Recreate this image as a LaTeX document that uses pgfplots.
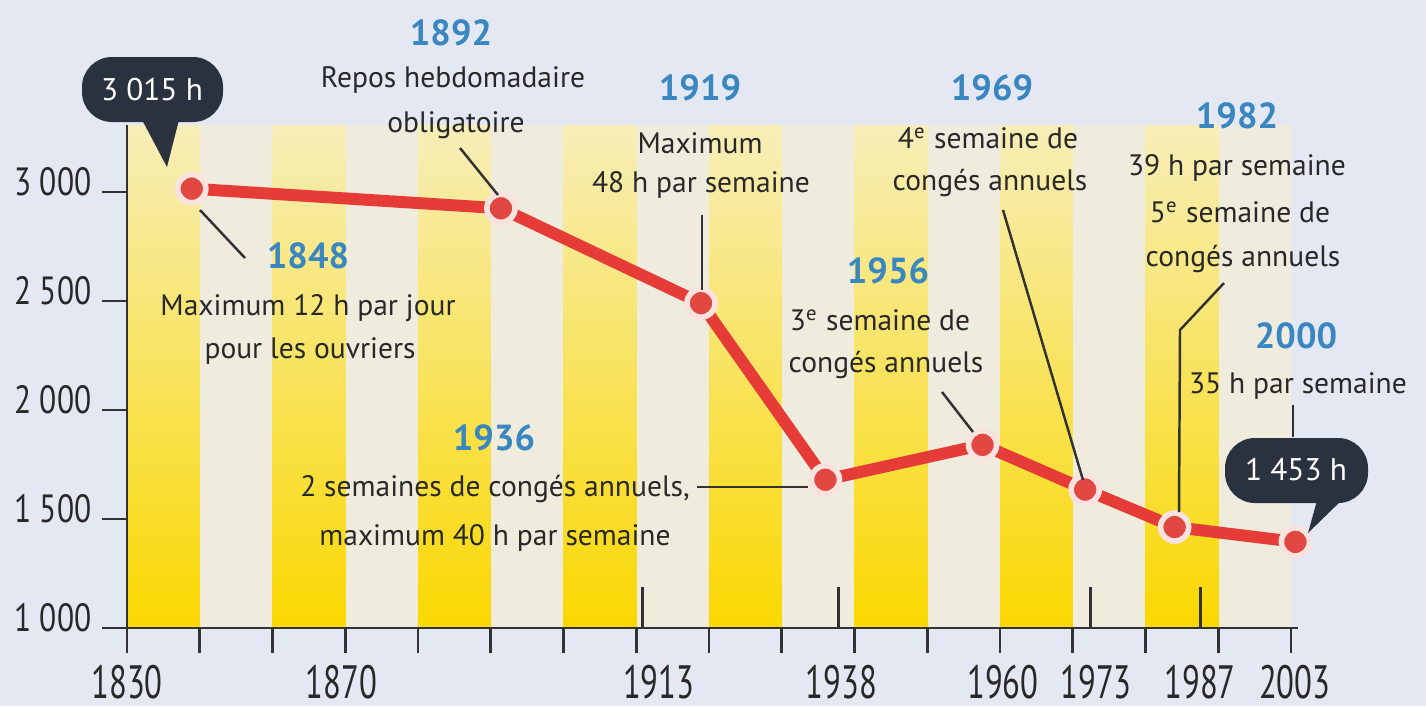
\documentclass[border=0pt]{standalone}
\usepackage{fontspec}
\setmainfont{PT Sans}
\newfontfamily\xlabfont{PT Sans}[FakeStretch=0.7]
\newfontfamily\ylabfont{PT Sans}[FakeStretch=0.8]
\usepackage{pgfplots}
\pgfplotsset{compat=1.18}
\definecolor{bgcol}{RGB}{228,232,242}
\definecolor{cream}{RGB}{239,236,222}
\definecolor{ytop}{RGB}{247,238,185}
\definecolor{ymid}{RGB}{248,228,110}
\definecolor{ybot}{RGB}{250,216,0}
\definecolor{redline}{RGB}{230,60,55}
\definecolor{redmark}{RGB}{225,72,66}
\definecolor{ringcol}{RGB}{250,226,222}
\definecolor{yearblue}{RGB}{58,134,192}
\definecolor{callout}{RGB}{42,50,64}
\definecolor{txt}{RGB}{40,40,40}
\definecolor{axcol}{RGB}{50,50,50}
\newcommand{\ann}{\color{txt}\fontsize{8.4}{10}\selectfont}
\newcommand{\yr}{\color{yearblue}\bfseries\fontsize{10.3}{12}\selectfont}
\begin{document}
\begin{tikzpicture}
\fill[bgcol] (0,0) rectangle (14.26,7.06);
\useasboundingbox (0,0) rectangle (14.26,7.06);
\begin{axis}[
  at={(1.27cm,0.78cm)}, anchor=south west,
  scale only axis, width=11.713cm, height=5.03cm,
  xmin=0, xmax=16.1, ymin=1000, ymax=3307,
  axis lines*=left,
  axis line style={draw=axcol, line width=0.8pt},
  clip=false, axis on top,
  tick align=outside, major tick length=7pt,
  tick style={draw=axcol, line width=0.8pt},
  xtick={0,1,...,16}, xticklabels={},
  extra x ticks={0,2.95,7.31,9.82,12.04,13.32,14.75,16.05},
  extra x tick labels={1830,1870,1913,1938,1960,1973,1987,2003},
  extra x tick style={major tick length=0pt},
  xticklabel style={font=\xlabfont\fontsize{13.3}{15}\selectfont, text=txt, anchor=base, yshift=-20pt},
  ytick={1000,1500,2000,2500,3000},
  yticklabels={1 000,1 500,2 000,2 500,3 000},
  yticklabel style={font=\ylabfont\fontsize{11.2}{12}\selectfont, text=txt, anchor=base east, yshift=-0.9pt, xshift=0.4pt},
]
\fill[cream] (axis cs:0,1000) rectangle (axis cs:16,3307);
\fill[top color=ytop, middle color=ymid, bottom color=ybot] (axis cs:0,1000) rectangle (axis cs:1,3307);
\fill[top color=ytop, middle color=ymid, bottom color=ybot] (axis cs:2,1000) rectangle (axis cs:3,3307);
\fill[top color=ytop, middle color=ymid, bottom color=ybot] (axis cs:4,1000) rectangle (axis cs:5,3307);
\fill[top color=ytop, middle color=ymid, bottom color=ybot] (axis cs:6,1000) rectangle (axis cs:7,3307);
\fill[top color=ytop, middle color=ymid, bottom color=ybot] (axis cs:8,1000) rectangle (axis cs:9,3307);
\fill[top color=ytop, middle color=ymid, bottom color=ybot] (axis cs:10,1000) rectangle (axis cs:11,3307);
\fill[top color=ytop, middle color=ymid, bottom color=ybot] (axis cs:12,1000) rectangle (axis cs:13,3307);
\fill[top color=ytop, middle color=ymid, bottom color=ybot] (axis cs:14,1000) rectangle (axis cs:15,3307);
\draw[axcol, line width=0.9pt] (axis cs:7.08,1000) -- (axis cs:7.08,1188);
\draw[axcol, line width=0.9pt] (axis cs:9.78,1000) -- (axis cs:9.78,1188);
\draw[axcol, line width=0.9pt] (axis cs:13.24,1000) -- (axis cs:13.24,1188);
\draw[axcol, line width=0.9pt] (axis cs:14.76,1000) -- (axis cs:14.76,1188);
\addplot[color=redline, line width=3.4pt, mark=*, mark size=4pt,
  mark options={fill=redmark, draw=ringcol, line width=1.6pt}]
  coordinates {(0.89,3015) (5.14,2925) (7.89,2490) (9.60,1680) (11.76,1840) (13.17,1635) (14.40,1463) (16.06,1395)};
\end{axis}
% leaders
\begin{scope}[axcol, line width=0.7pt]
\draw (2.00,4.96) -- (2.45,4.48);
\draw (4.60,5.58) -- (4.98,5.11);
\draw (7.02,4.91) -- (7.02,4.16);
\draw (6.97,2.19) -- (8.08,2.19);
\draw (9.42,3.14) -- (9.73,2.74);
\draw (10.03,4.96) -- (10.83,2.26);
\draw (12.24,4.23) -- (11.80,3.76) -- (11.79,1.94);
\draw (12.93,3.01) -- (12.93,2.69);
\end{scope}
% callouts
\fill[callout, rounded corners=0.3cm] (0.82,5.84) rectangle (2.23,6.49);
\fill[callout] (1.40,5.90) -- (1.80,5.90) -- (1.67,5.39) -- cycle;
\node[text=white, font=\fontsize{8.9}{10}\selectfont] at (1.52,6.16) {3 015 h};
\fill[callout, rounded corners=0.3cm] (12.25,2.03) rectangle (13.68,2.68);
\fill[callout] (13.18,2.09) -- (13.45,2.09) -- (13.08,1.73) -- cycle;
\node[text=white, font=\fontsize{8.9}{10}\selectfont] at (12.96,2.36) {1 453 h};
% annotations
\node[anchor=base] at (4.51,6.61) {\yr 1892};
\node[anchor=base] at (4.53,6.19) {\ann Repos hebdomadaire};
\node[anchor=base] at (4.56,5.74) {\ann obligatoire};
\node[anchor=base] at (7.00,6.06) {\yr 1919};
\node[anchor=base] at (7.00,5.53) {\ann Maximum};
\node[anchor=base] at (7.01,5.14) {\ann 48 h par semaine};
\node[anchor=base] at (3.08,4.38) {\yr 1848};
\node[anchor=base] at (3.08,3.91) {\ann Maximum 12 h par jour};
\node[anchor=base] at (3.10,3.48) {\ann pour les ouvriers};
\node[anchor=base] at (4.94,2.56) {\yr 1936};
\node[anchor=base] at (4.95,2.10) {\ann 2 semaines de congés annuels,};
\node[anchor=base] at (4.95,1.61) {\ann maximum 40 h par semaine};
\node[anchor=base] at (8.88,4.23) {\yr 1956};
\node[anchor=base] at (8.80,3.76) {\ann 3\textsuperscript{e} semaine de};
\node[anchor=base] at (8.86,3.34) {\ann congés annuels};
\node[anchor=base] at (9.92,6.06) {\yr 1969};
\node[anchor=base] at (9.88,5.58) {\ann 4\textsuperscript{e} semaine de};
\node[anchor=base] at (9.90,5.16) {\ann congés annuels};
\node[anchor=base] at (12.37,5.78) {\yr 1982};
\node[anchor=base] at (12.37,5.31) {\ann 39 h par semaine};
\node[anchor=base] at (12.40,4.84) {\ann 5\textsuperscript{e} semaine de};
\node[anchor=base] at (12.43,4.40) {\ann congés annuels};
\node[anchor=base] at (12.96,3.58) {\yr 2000};
\node[anchor=base] at (12.98,3.13) {\ann 35 h par semaine};
\end{tikzpicture}
\end{document}
